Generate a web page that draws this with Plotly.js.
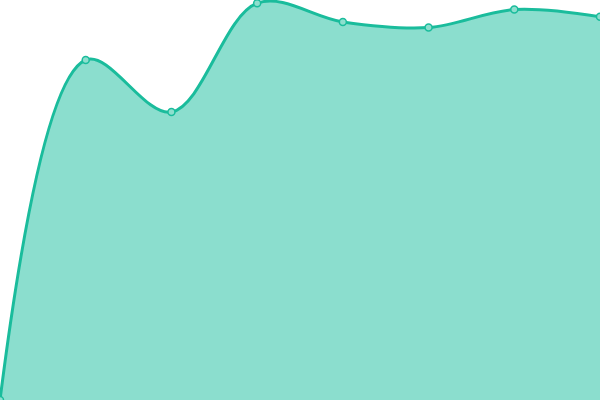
<!DOCTYPE html>
<html>
<head>
<meta charset="utf-8">
<script src="https://cdn.plot.ly/plotly-3.0.1.min.js"></script>
<style>
  html, body { margin: 0; padding: 0; background: #fff; }
  #chart { width: 600px; height: 400px; }
</style>
</head>
<body>
<div id="chart"></div>
<script>
const labels = [1, 2, 3, 4, 5, 6, 7, 8];
const values = [0, 85, 72, 99.2, 94.5, 93.1, 97.6, 95.8];

const lineColor = '#1abc9c';

const trace = {
  type: 'scatter',
  mode: 'lines+markers',
  x: labels,
  y: values,
  fill: 'tozeroy',
  fillcolor: 'rgba(24,190,158,0.5)',
  line: { color: lineColor, width: 3, shape: 'spline', smoothing: 1 },
  marker: { size: 7, color: '#8ddfce', line: { color: lineColor, width: 1.5 } },
  hoverinfo: 'x+y'
};

const layout = {
  width: 600,
  height: 400,
  margin: { l: 0, r: 0, t: 0, b: 0 },
  paper_bgcolor: '#fff',
  plot_bgcolor: '#fff',
  showlegend: false,
  xaxis: { visible: false, range: [1, 8], fixedrange: true },
  yaxis: { visible: false, range: [0, 100], fixedrange: true }
};

Plotly.newPlot('chart', [trace], layout, { displayModeBar: false, staticPlot: true });
</script>
</body>
</html>
